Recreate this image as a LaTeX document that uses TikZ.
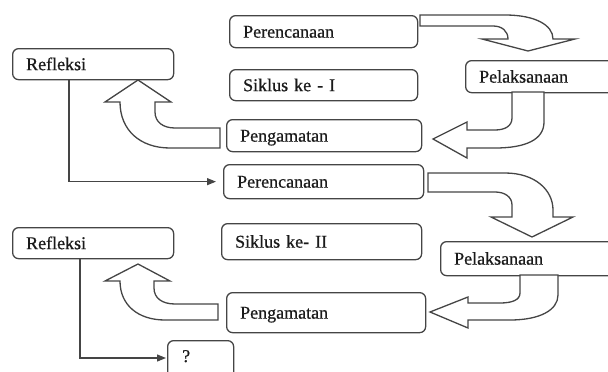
\documentclass[tikz,border=0pt]{standalone}
\usepackage{fontspec}
\setmainfont{Liberation Serif}
\newfontfamily\lblfont{Liberation Serif}[FakeBold=0.7]
\usetikzlibrary{arrows.meta,calc}
\definecolor{edge}{HTML}{454545}
\definecolor{ink}{HTML}{1A1A1A}
\begin{document}
\begin{tikzpicture}[x=1pt,y=-1pt,
  bx/.style={draw=edge, line width=1.3pt, rounded corners=6pt, anchor=north west,
    inner xsep=13.5pt, inner ysep=0pt, align=left, text=ink,
    font=\lblfont\fontsize{18}{20}\selectfont, text height=12pt, text depth=0pt},
  blk/.style={draw=edge, line width=1.3pt, fill=white, line join=miter},
  conn/.style={draw=edge, line width=1.2pt, -{Triangle[length=9pt,width=7pt]}}]
\useasboundingbox (0,0) rectangle (608,372);
% boxes
\node[bx, minimum width=188, minimum height=32, text width=161] (per1) at (229,15) {Perencanaan};
\node[bx, minimum width=161, minimum height=31, text width=134] (ref1) at (12,48) {Refleksi};
\node[bx, minimum width=188, minimum height=31, text width=161] (sik1) at (229,69) {Siklus ke - I};
\node[bx, minimum width=160, minimum height=32, text width=133] (pel1) at (465,60) {Pelaksanaan};
\node[bx, minimum width=195, minimum height=32, text width=168] (pen1) at (226,119) {Pengamatan};
\node[bx, minimum width=200, minimum height=34, text width=173] (per2) at (223,164) {Perencanaan};
\node[bx, minimum width=200, minimum height=36, text width=173] (sik2) at (221,223) {Siklus ke- II};
\node[bx, minimum width=161, minimum height=31, text width=134] (ref2) at (12,227) {Refleksi};
\node[bx, minimum width=185, minimum height=34, text width=158] (pel2) at (440,241) {Pelaksanaan};
\node[bx, minimum width=199, minimum height=40, text width=172] (pen2) at (226,292) {Pengamatan};
\node[bx, minimum width=66, minimum height=50] (q) at (167,340) {};
\node[anchor=base west, inner sep=0pt, text=ink, font=\lblfont\fontsize{18}{20}\selectfont] (qt) at ($(q.north west)+(15,22)$) {?};
% block arrows
\path[blk] (420,15) -- (505,15) .. controls (535,15) and (553,25) .. (553,39) -- (575,39) -- (528,51) -- (482,39) -- (508,39) .. controls (508,31) and (502,26) .. (493,26) -- (420,26) -- cycle;
\path[blk] (512,92) -- (512,118) .. controls (512,126) and (505,130) .. (495,130) -- (467,130) -- (467,122) -- (433,139) -- (467,158) -- (467,148) -- (495,148) .. controls (525,148) and (544,140) .. (544,122) -- (544,92) -- cycle;
\path[blk] (220,128) -- (175,128) .. controls (163,128) and (155,122) .. (155,112) -- (155,102) -- (171,102) -- (138,80) -- (105,102) -- (120,102) .. controls (120,130) and (140,148) .. (170,148) -- (220,148) -- cycle;
\path[blk] (428,173) -- (505,173) .. controls (535,173) and (553,190) .. (553,210) -- (553,217) -- (573,217) -- (532,237) -- (491,217) -- (512,217) -- (512,205) .. controls (512,197) and (505,192) .. (495,192) -- (428,192) -- cycle;
\path[blk] (520,275) -- (520,293) .. controls (520,300) and (512,303) .. (500,303) -- (468,303) -- (468,297) -- (430,312) -- (468,328) -- (468,320) -- (510,320) .. controls (540,320) and (558,310) .. (558,295) -- (558,275) -- cycle;
\path[blk] (218,304) -- (175,304) .. controls (162,304) and (154,298) .. (154,288) -- (154,281) -- (170,281) -- (138,264) -- (105,281) -- (120,281) .. controls (120,305) and (138,320) .. (165,320) -- (218,320) -- cycle;
% connectors
\draw[conn, shorten >=7pt] ($(ref1.south west)+(57,0)$) |- (per2.west);
\coordinate (qin) at ($(q.north west)+(-1,18)$);
\draw[conn] ($(ref2.south west)+(68,0)$) |- (qin);
\end{tikzpicture}
\end{document}
